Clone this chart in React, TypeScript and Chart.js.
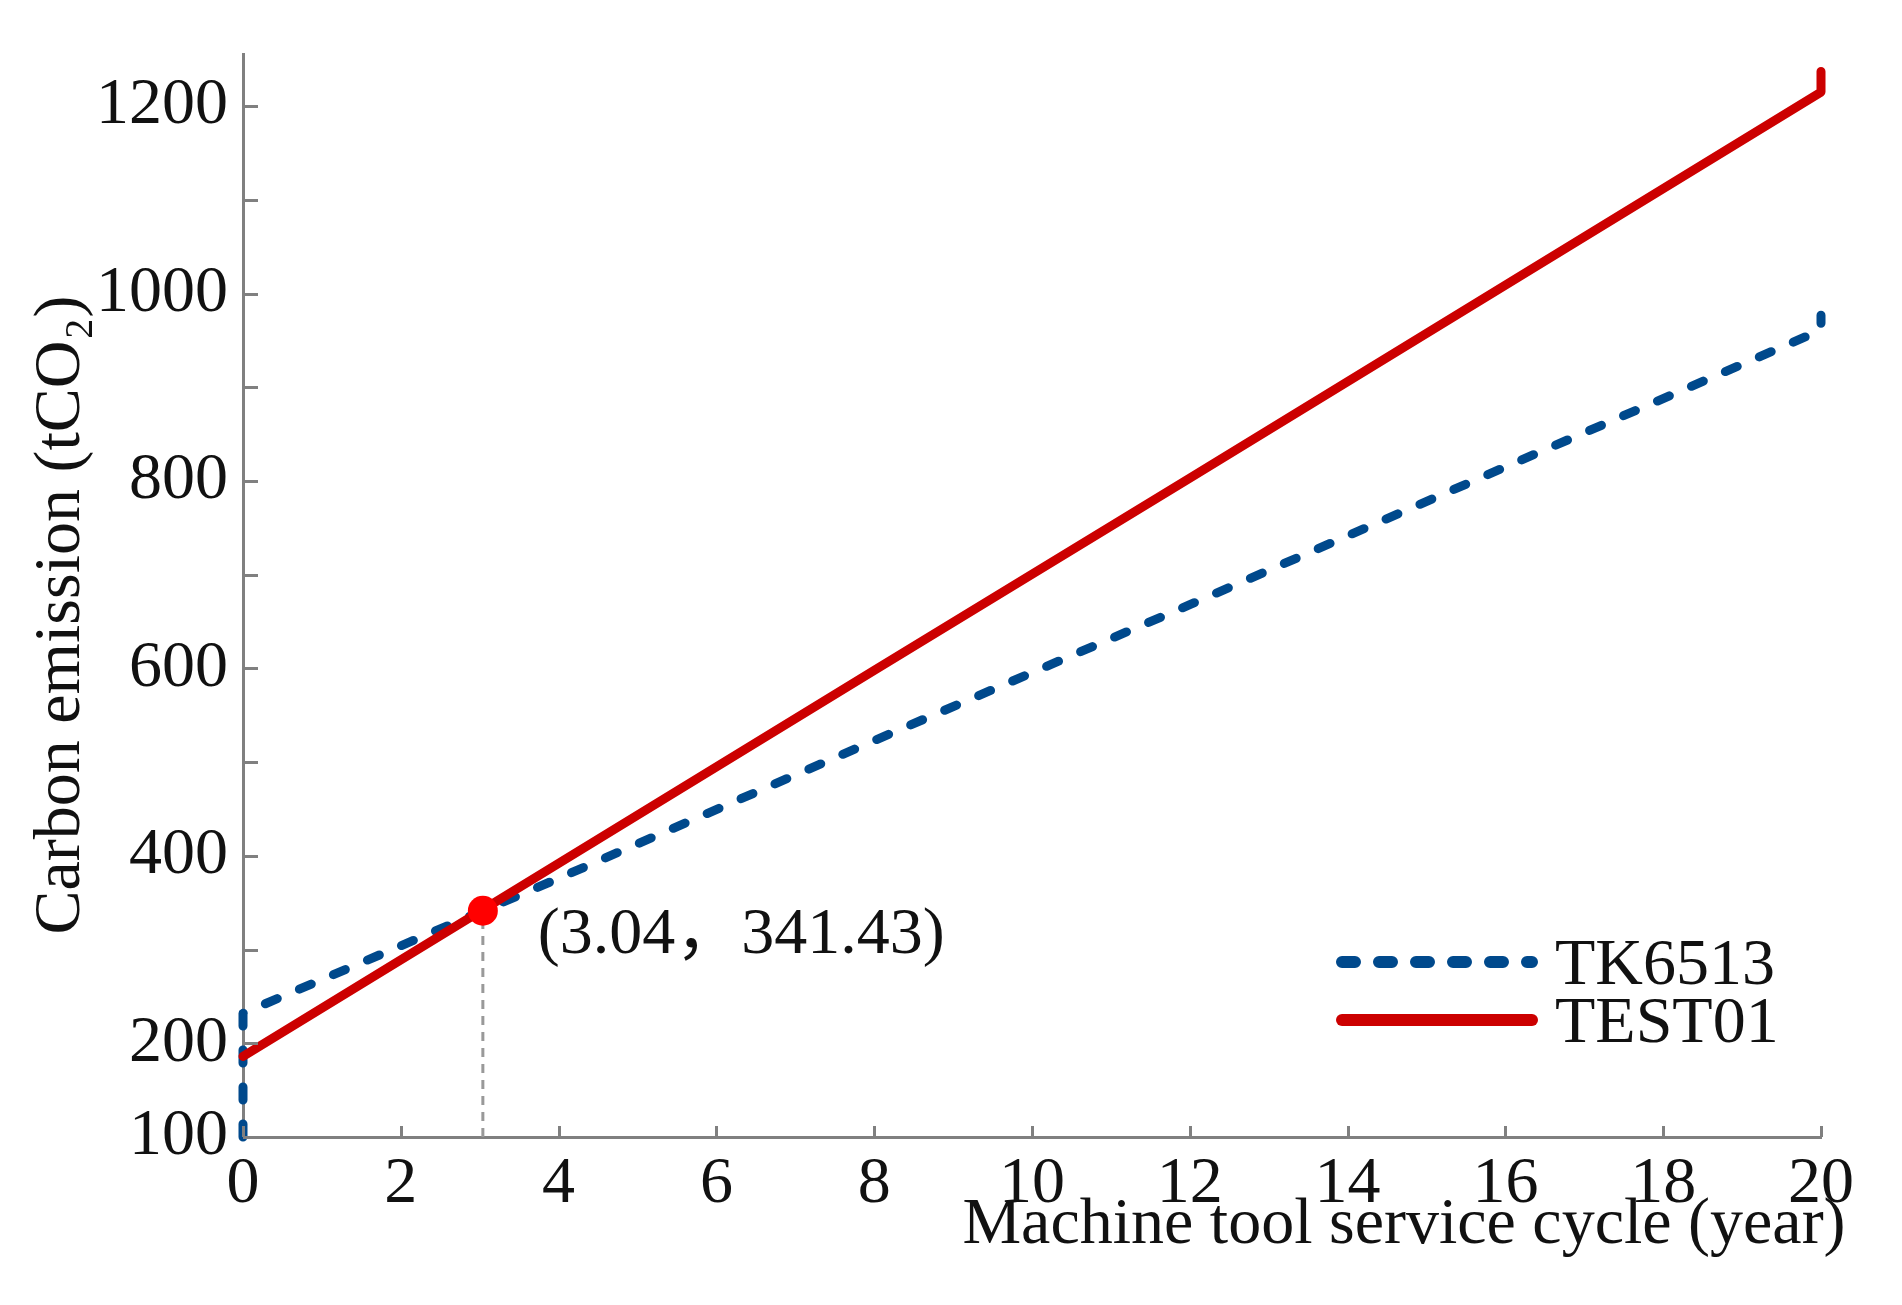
import React, { useEffect, useRef } from 'react';
import { Chart, registerables } from 'chart.js';

Chart.register(...registerables);

// ---- data ----
const seriesNames = ['TK6513', 'TEST01'];
const tk6513X = [0, 0, 4, 8, 12, 16, 20, 20];
const tk6513Y = [100, 232, 376, 523, 668, 815, 961, 977];
const test01X = [0, 4, 8, 12, 16, 20, 20];
const test01Y = [186, 392, 598, 803, 1009, 1215, 1237];
const crossX = 3.04;
const crossY = 341.43;
const xTicks = [0, 2, 4, 6, 8, 10, 12, 14, 16, 18, 20];
const yTicks = [100, 200, 300, 400, 500, 600, 700, 800, 900, 1000, 1100, 1200];
const yLabelled = [100, 200, 400, 600, 800, 1000, 1200];
const xTitle = 'Machine tool service cycle (year)';
const yTitle = 'Carbon emission (tCO₂)';
const annotationText = '(3.04，341.43)';

const FONT = "'Liberation Serif', 'Times New Roman', 'Noto Sans CJK SC', serif";
const BLUE = '#00498c';
const RED = '#cc0000';
const AXIS = '#808080';
const FS = 66;

const toPts = (xs: number[], ys: number[]) => xs.map((x, i) => ({ x, y: ys[i] }));

const decor = {
  id: 'decor',
  afterDraw(chart: any) {
    const ctx = chart.ctx;
    const xs = chart.scales.x;
    const ys = chart.scales.y;
    const area = chart.chartArea;
    ctx.save();
    // inward ticks
    ctx.strokeStyle = AXIS;
    ctx.lineWidth = 3;
    ys.ticks.forEach((t: any) => {
      const y = Math.round(ys.getPixelForValue(t.value)) + 0.5;
      ctx.beginPath();
      ctx.moveTo(area.left, y);
      ctx.lineTo(area.left + 15, y);
      ctx.stroke();
    });
    xs.ticks.forEach((t: any) => {
      const x = Math.round(xs.getPixelForValue(t.value)) + 0.5;
      ctx.beginPath();
      ctx.moveTo(x, area.bottom);
      ctx.lineTo(x, area.bottom - 11);
      ctx.stroke();
    });
    // axis titles
    ctx.fillStyle = '#111';
    ctx.font = `${FS}px ${FONT}`;
    ctx.textAlign = 'center';
    ctx.textBaseline = 'alphabetic';
    ctx.fillText(xTitle, 1404, 1243);
    ctx.save();
    ctx.translate(62, 615);
    ctx.rotate(-Math.PI / 2);
    ctx.textBaseline = 'middle';
    ctx.fillText(yTitle, 0, 0);
    ctx.restore();
    // annotation
    const px = xs.getPixelForValue(crossX);
    const py = ys.getPixelForValue(crossY);
    ctx.textAlign = 'left';
    ctx.textBaseline = 'alphabetic';
    ctx.fillText(annotationText, px + 55, py + 42);
    // legend
    const lx0 = 1342, lx1 = 1532;
    const entries = [
      { name: seriesNames[0], color: BLUE, dash: [13, 24], y: 962 },
      { name: seriesNames[1], color: RED, dash: [], y: 1020 },
    ];
    entries.forEach((e) => {
      ctx.save();
      ctx.strokeStyle = e.color;
      ctx.lineWidth = 12;
      ctx.lineCap = 'round';
      ctx.setLineDash(e.dash);
      ctx.beginPath();
      ctx.moveTo(lx0, e.y);
      ctx.lineTo(lx1, e.y);
      ctx.stroke();
      ctx.restore();
      ctx.fillStyle = '#111';
      ctx.textAlign = 'left';
      ctx.textBaseline = 'alphabetic';
      ctx.fillText(e.name, 1555, e.y + 22);
    });
    ctx.restore();
  },
};

export default function App() {
  const ref = useRef<HTMLCanvasElement>(null);
  useEffect(() => {
    document.body.style.margin = '0';
    const chart = new Chart(ref.current as HTMLCanvasElement, {
      type: 'line',
      data: {
        datasets: [
          {
            label: 'intersection',
            data: [{ x: crossX, y: crossY }],
            showLine: false,
            pointRadius: 15,
            pointBackgroundColor: '#ff0000',
            pointBorderWidth: 0,
            clip: false,
          } as any,
          {
            label: seriesNames[1],
            data: toPts(test01X, test01Y),
            borderColor: RED,
            borderWidth: 9,
            borderCapStyle: 'round',
            borderJoinStyle: 'round',
            pointRadius: 0,
            clip: false,
          },
          {
            label: seriesNames[0],
            data: toPts(tk6513X, tk6513Y),
            borderColor: BLUE,
            borderWidth: 9,
            borderDash: [13, 24],
            borderCapStyle: 'round',
            borderJoinStyle: 'round',
            pointRadius: 0,
            clip: false,
          },
          {
            label: 'drop',
            data: [
              { x: crossX, y: yTicks[0] },
              { x: crossX, y: crossY },
            ],
            borderColor: '#999999',
            borderWidth: 3,
            borderDash: [9, 7],
            pointRadius: 0,
            clip: false,
          },
        ],
      },
      options: {
        responsive: false,
        animation: false,
        events: [],
        layout: { padding: { left: 0, right: 81, top: 45, bottom: 0 } },
        plugins: { legend: { display: false }, tooltip: { enabled: false } },
        scales: {
          x: {
            type: 'linear',
            min: 0,
            max: 20,
            afterFit: (s: any) => { s.height = 168; },
            afterBuildTicks: (s: any) => { s.ticks = xTicks.map((v) => ({ value: v })); },
            grid: { display: false, drawTicks: false },
            border: { display: true, color: AXIS, width: 3 },
            ticks: {
              color: '#111',
              padding: 8,
              maxRotation: 0,
              autoSkip: false,
              font: { family: FONT, size: FS },
              callback: (v: any) => String(v),
            },
          },
          y: {
            type: 'linear',
            min: 100,
            max: 1255,
            afterFit: (s: any) => { s.width = 243; },
            afterBuildTicks: (s: any) => { s.ticks = yTicks.map((v) => ({ value: v })); },
            grid: { display: false, drawTicks: false },
            border: { display: true, color: AXIS, width: 3 },
            ticks: {
              color: '#111',
              padding: 15,
              autoSkip: false,
              font: { family: FONT, size: FS },
              callback: (v: any) => (yLabelled.includes(Number(v)) ? String(v) : ''),
            },
          },
        },
      },
      plugins: [decor],
    });
    return () => chart.destroy();
  }, []);
  return <canvas ref={ref} width={1902} height={1305} style={{ display: 'block' }} />;
}
